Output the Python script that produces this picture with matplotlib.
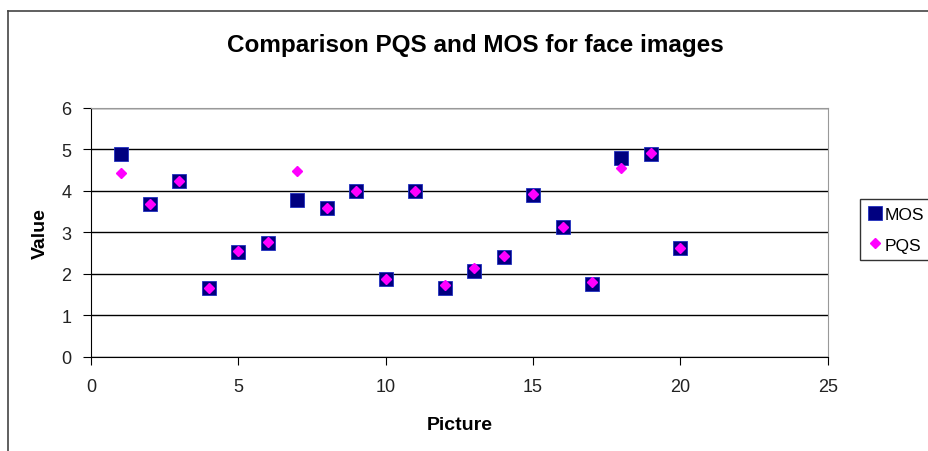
import matplotlib.pyplot as plt
from matplotlib.lines import Line2D

pictures = list(range(1, 21))
mos = [4.88, 3.69, 4.24, 1.65, 2.53, 2.75, 3.77, 3.59, 4.01, 1.87,
       4.01, 1.65, 2.08, 2.42, 3.91, 3.13, 1.77, 4.79, 4.89, 2.62]
pqs = [4.43, 3.69, 4.24, 1.66, 2.55, 2.77, 4.47, 3.59, 4.01, 1.89,
       4.01, 1.73, 2.15, 2.43, 3.92, 3.13, 1.81, 4.56, 4.92, 2.62]

plt.rcParams['font.family'] = ['Liberation Sans', 'DejaVu Sans']

fig = plt.figure(figsize=(9.29, 4.52), dpi=100)
ax = fig.add_axes([0.098, 0.208, 0.793, 0.551])

ax.plot(pictures, mos, linestyle='none', marker='s', markersize=9.5,
        markerfacecolor='#000080', markeredgecolor='#2030c0', markeredgewidth=0.6, label='MOS')
ax.plot(pictures, pqs, linestyle='none', marker='D', markersize=5.5,
        markerfacecolor='#ff00ff', markeredgecolor='#ff00ff', label='PQS')

ax.set_xlim(0, 25)
ax.set_ylim(0, 6)
ax.set_xticks(range(0, 26, 5))
ax.set_yticks(range(0, 7))
ax.yaxis.grid(True, color='black', linewidth=1.0)
ax.set_axisbelow(True)
ax.tick_params(direction='out', length=6, labelsize=13, color='black', colors='#222222')
ax.tick_params(axis='x', pad=9)
ax.tick_params(axis='y', pad=8)
for s in ['top', 'right']:
    ax.spines[s].set_color('#999999')
for s in ['left', 'bottom']:
    ax.spines[s].set_color('black')

ax.set_xlabel('Picture', fontsize=14, fontweight='bold', labelpad=15)
ax.set_ylabel('Value', fontsize=14, fontweight='bold', labelpad=9)
fig.text(0.512, 0.9, 'Comparison PQS and MOS for face images',
         ha='center', va='center', fontsize=17.5, fontweight='bold')

# legend sits at the right edge, as in the original screenshot
fig.legend(loc='upper left', bbox_to_anchor=(0.926, 0.558), fontsize=12.5,
           frameon=True, fancybox=False, edgecolor='black', handletextpad=0.12,
           handlelength=0.85, borderpad=0.45, labelspacing=0.9, borderaxespad=0)

# outer chart border
fig.add_artist(Line2D([0.0086, 0.0086], [0, 0.973], color='#444444', linewidth=1.2))
fig.add_artist(Line2D([0.0086, 1.0], [0.973, 0.973], color='#444444', linewidth=1.2))

fig.savefig('out.png', dpi=100)
